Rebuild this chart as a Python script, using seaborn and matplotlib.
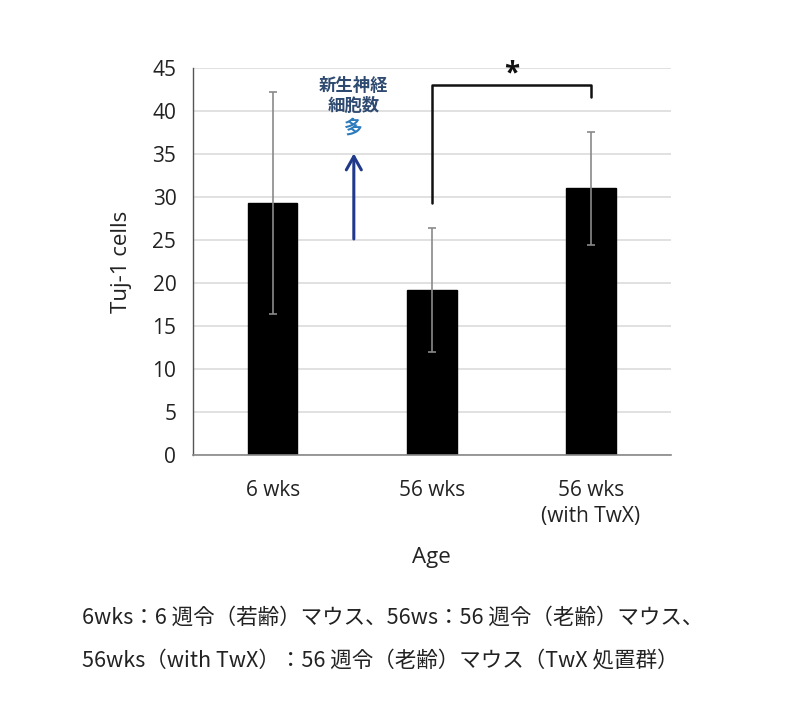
import matplotlib
matplotlib.use("Agg")
import matplotlib.pyplot as plt
import seaborn as sns
import pandas as pd

categories = ["6 wks", "56 wks", "56 wks\n(with TwX)"]
means = [29.3, 19.2, 31.0]
errors = [12.9, 7.2, 6.6]
yticks = [0, 5, 10, 15, 20, 25, 30, 35, 40, 45]

sns.set_theme(style="white")
plt.rcParams['font.family'] = ['Open Sans', 'Noto Sans CJK JP', 'DejaVu Sans']

df = pd.DataFrame({"Age": categories, "Tuj-1 cells": means})

fig = plt.figure(figsize=(7.96, 7.02), dpi=100)
ax = fig.add_axes([0.2425, 0.352, 0.6, 0.551])

sns.barplot(data=df, x="Age", y="Tuj-1 cells", color="black", width=0.31,
            errorbar=None, ax=ax, zorder=2, edgecolor="black")
ax.errorbar(range(len(categories)), means, yerr=errors, fmt="none",
            ecolor="#8a8a8a", elinewidth=1.2, capsize=3, capthick=1.2, zorder=3)

ax.set_ylim(0, 45)
ax.set_xlim(-0.5, 2.5)
ax.set_yticks(yticks)
ax.yaxis.grid(True, color="#dcdcdc", linewidth=1.2, zorder=0)
ax.set_axisbelow(True)
for s in ["top", "right"]:
    ax.spines[s].set_visible(False)
ax.spines["left"].set_color("#555555")
ax.spines["bottom"].set_color("#888888")
ax.spines["left"].set_linewidth(1.0)
ax.spines["bottom"].set_linewidth(1.2)
ax.tick_params(axis="both", length=0, labelsize=15, colors="#222222")
ax.tick_params(axis="y", pad=12)
ax.tick_params(axis="x", pad=18)
for lbl in ax.get_xticklabels():
    lbl.set_linespacing(1.35)
ax.set_xlabel("Age", fontsize=16, color="#222222", labelpad=14)
ax.set_ylabel("Tuj-1 cells", fontsize=16, color="#222222", labelpad=15)

# significance bracket
ax.plot([1, 1, 2, 2], [29.3, 43.0, 43.0, 41.6], color="#111111", lw=1.8,
        clip_on=False, zorder=4)
ax.text(1.5, 44.3, "*", ha="center", va="center", fontsize=20,
        fontweight="bold", color="#111111", clip_on=False)

# arrow and annotation
ax.annotate("", xy=(0.51, 35.4), xytext=(0.51, 24.8),
            arrowprops=dict(arrowstyle="->,head_length=0.8,head_width=0.45",
                            color="#1f3a8a", lw=2.2))
ax.text(0.51, 41.8, "新生神経\n細胞数", ha="center", va="center", fontsize=12.5,
        fontweight="bold", color="#2f4a70", linespacing=1.15,
        family=['Noto Sans CJK JP', 'DejaVu Sans'])
ax.text(0.51, 38.0, "多", ha="center", va="center", fontsize=13.5,
        fontweight="bold", color="#2b7bbd",
        family=['Noto Sans CJK JP', 'DejaVu Sans'])

fig.text(82 / 796, 1 - 618 / 702,
         "6wks：6 週令（若齢）マウス、56ws：56 週令（老齢）マウス、",
         ha="left", va="center", fontsize=15.5, color="#222222",
         family=['Noto Sans CJK JP', 'DejaVu Sans'])
fig.text(82 / 796, 1 - 661 / 702,
         "56wks（with TwX）：56 週令（老齢）マウス（TwX 処置群）",
         ha="left", va="center", fontsize=15.5, color="#222222",
         family=['Noto Sans CJK JP', 'DejaVu Sans'])

fig.savefig("out.png", dpi=100, facecolor="white")
